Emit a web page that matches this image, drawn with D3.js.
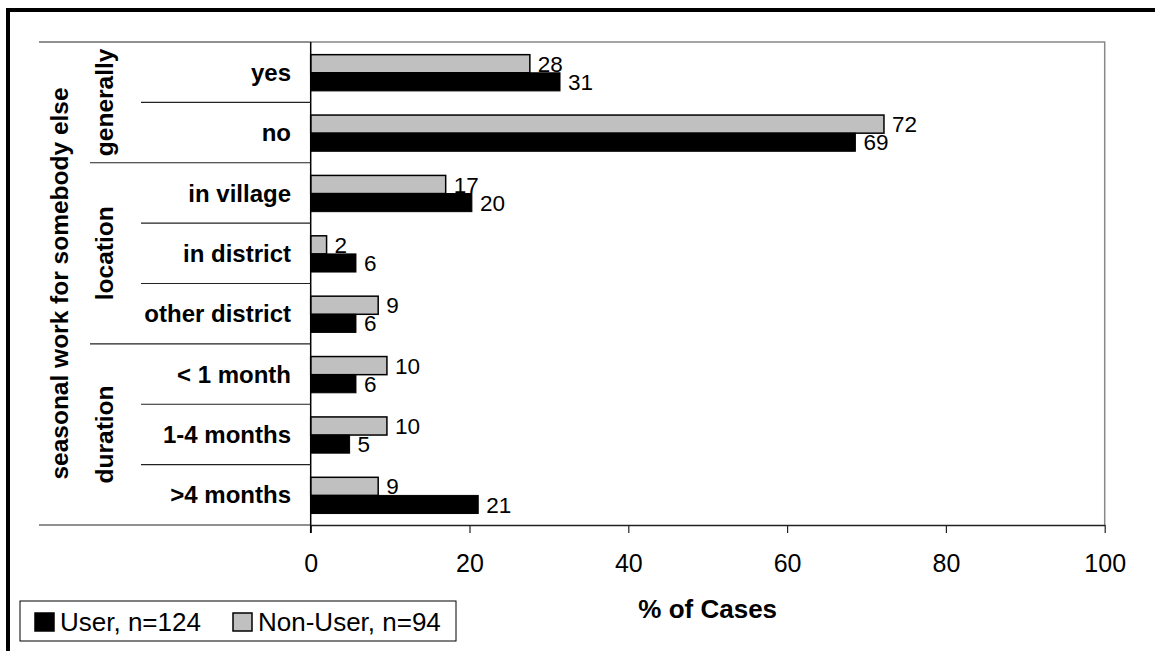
<!DOCTYPE html>
<html>
<head>
<meta charset="utf-8">
<script src="https://cdn.jsdelivr.net/npm/d3@7"></script>
<style>
  body { margin: 0; background: #fff; }
  svg { display: block; font-family: 'Liberation Sans', Arial, sans-serif; }
</style>
</head>
<body>
<div id="chart"></div>
<script>
// categories, top to bottom
const categories = ['yes', 'no', 'in village', 'in district', 'other district', '< 1 month', '1-4 months', '>4 months']
const groups = [
  { name: 'generally', from: 0, to: 1 },
  { name: 'location', from: 2, to: 4 },
  { name: 'duration', from: 5, to: 7 }
]
const outerLabel = 'seasonal work for somebody else'

// % of cases
const nonUser = [27.6, 72.2, 17.0, 2.0, 8.5, 9.6, 9.6, 8.5]
const user = [31.4, 68.6, 20.3, 5.7, 5.7, 5.7, 4.9, 21.1]

const xTicks = [0, 20, 40, 60, 80, 100]
const seriesNames = ['User, n=124', 'Non-User, n=94']

const W = 1155
const H = 651
const plot = { left: 310.7, right: 1104.7, top: 42, bottom: 525 }

const svg = d3
  .select('#chart')
  .append('svg')
  .attr('width', W)
  .attr('height', H)

// outer frame (only top and left visible in the picture)
svg
  .append('rect')
  .attr('x', 8)
  .attr('y', 10)
  .attr('width', W + 20)
  .attr('height', H + 20)
  .attr('fill', 'none')
  .attr('stroke', '#000')
  .attr('stroke-width', 4)

const xScale = d3.scaleLinear().domain([0, 100]).range([plot.left, plot.right])

const yScale = d3
  .scaleBand()
  .domain(categories)
  .range([plot.top, plot.bottom])
  .padding(0)

const bw = yScale.bandwidth()
const barH = bw * 0.3
const barOff = bw * 0.21

// plot area border (grey top / right)
svg
  .append('path')
  .attr('d', `M${plot.left},${plot.top}H${plot.right}V${plot.bottom}`)
  .attr('fill', 'none')
  .attr('stroke', '#888')
  .attr('stroke-width', 1.5)

// bars
const rows = categories.map((c, i) => ({ cat: c, nonUser: nonUser[i], user: user[i] }))

svg
  .selectAll('.bar-nonuser')
  .data(rows)
  .enter()
  .append('rect')
  .attr('class', 'bar-nonuser')
  .attr('x', xScale(0))
  .attr('y', d => yScale(d.cat) + barOff)
  .attr('width', d => xScale(d.nonUser) - xScale(0))
  .attr('height', barH)
  .attr('fill', '#c0c0c0')
  .attr('stroke', '#000')
  .attr('stroke-width', 1.5)

svg
  .selectAll('.bar-user')
  .data(rows)
  .enter()
  .append('rect')
  .attr('class', 'bar-user')
  .attr('x', xScale(0))
  .attr('y', d => yScale(d.cat) + barOff + barH)
  .attr('width', d => xScale(d.user) - xScale(0))
  .attr('height', barH)
  .attr('fill', '#000')
  .attr('stroke', '#000')
  .attr('stroke-width', 1)

// value labels
svg
  .selectAll('.lbl-nonuser')
  .data(rows)
  .enter()
  .append('text')
  .attr('x', d => xScale(d.nonUser) + 8)
  .attr('y', d => yScale(d.cat) + barOff + barH / 2)
  .attr('dy', '0.36em')
  .attr('font-size', 22.5)
  .text(d => Math.round(d.nonUser))

svg
  .selectAll('.lbl-user')
  .data(rows)
  .enter()
  .append('text')
  .attr('x', d => xScale(d.user) + 8)
  .attr('y', d => yScale(d.cat) + barOff + barH * 1.5)
  .attr('dy', '0.36em')
  .attr('font-size', 22.5)
  .text(d => Math.round(d.user))

// x axis
const xAxis = d3
  .axisBottom(xScale)
  .tickValues(xTicks)
  .tickSize(8)
  .tickPadding(21)
  .tickSizeOuter(0)

const xg = svg
  .append('g')
  .attr('transform', `translate(0,${plot.bottom})`)
  .call(xAxis)
xg.select('.domain').attr('stroke', '#222').attr('stroke-width', 1.5)
xg.selectAll('.tick line').attr('stroke', '#222').attr('stroke-width', 1.2)
xg.selectAll('.tick text')
  .attr('font-size', 25)
  .attr('font-family', "'Liberation Sans', Arial, sans-serif")
  .attr('fill', '#000')

svg
  .append('text')
  .attr('x', (plot.left + plot.right) / 2)
  .attr('y', 617.5)
  .attr('text-anchor', 'middle')
  .attr('font-size', 26)
  .attr('font-weight', 'bold')
  .text('% of Cases')

// y axis line
svg
  .append('line')
  .attr('x1', plot.left)
  .attr('x2', plot.left)
  .attr('y1', plot.top)
  .attr('y2', plot.bottom + 8)
  .attr('stroke', '#000')
  .attr('stroke-width', 1.5)

// category separators, three levels
const lvl = { outer: 39, group: 90, cat: 141 }
const bounds = d3.range(categories.length + 1).map(i => plot.top + i * bw)
const groupEdges = new Set(groups.map(g => g.from).concat([categories.length]))

svg
  .selectAll('.sep')
  .data(bounds)
  .enter()
  .append('line')
  .attr('x1', (d, i) => (i === 0 || i === categories.length ? lvl.outer : groupEdges.has(i) ? lvl.group : lvl.cat))
  .attr('x2', plot.left)
  .attr('y1', d => d)
  .attr('y2', d => d)
  .attr('stroke', '#222')
  .attr('stroke-width', 1.2)

// category labels
svg
  .selectAll('.cat-label')
  .data(categories)
  .enter()
  .append('text')
  .attr('x', 291)
  .attr('y', d => yScale(d) + bw / 2)
  .attr('dy', '0.36em')
  .attr('text-anchor', 'end')
  .attr('font-size', 24)
  .attr('font-weight', 'bold')
  .text(d => d)

// group labels
svg
  .selectAll('.group-label')
  .data(groups)
  .enter()
  .append('text')
  .attr('transform', d => {
    const cy = (yScale(categories[d.from]) + yScale(categories[d.to]) + bw) / 2
    return `translate(104.5,${cy}) rotate(-90)`
  })
  .attr('dy', '0.35em')
  .attr('text-anchor', 'middle')
  .attr('font-size', 24.5)
  .attr('font-weight', 'bold')
  .text(d => d.name)

svg
  .append('text')
  .attr('transform', `translate(59,${(plot.top + plot.bottom) / 2}) rotate(-90)`)
  .attr('dy', '0.35em')
  .attr('text-anchor', 'middle')
  .attr('font-size', 24.5)
  .attr('font-weight', 'bold')
  .text(outerLabel)

// legend
const legend = svg.append('g')
legend
  .append('rect')
  .attr('x', 20)
  .attr('y', 601)
  .attr('width', 436)
  .attr('height', 40)
  .attr('fill', '#fff')
  .attr('stroke', '#000')
  .attr('stroke-width', 1)

const legendItems = [
  { name: seriesNames[0], fill: '#000', x: 35 },
  { name: seriesNames[1], fill: '#c0c0c0', x: 233 }
]

legend
  .selectAll('.swatch')
  .data(legendItems)
  .enter()
  .append('rect')
  .attr('x', d => d.x)
  .attr('y', 613)
  .attr('width', 19)
  .attr('height', 18)
  .attr('fill', d => d.fill)
  .attr('stroke', '#000')
  .attr('stroke-width', 1.5)

legend
  .selectAll('.legend-text')
  .data(legendItems)
  .enter()
  .append('text')
  .attr('x', d => d.x + 25)
  .attr('y', 631)
  .attr('font-size', 26)
  .text(d => d.name)
</script>
</body>
</html>
